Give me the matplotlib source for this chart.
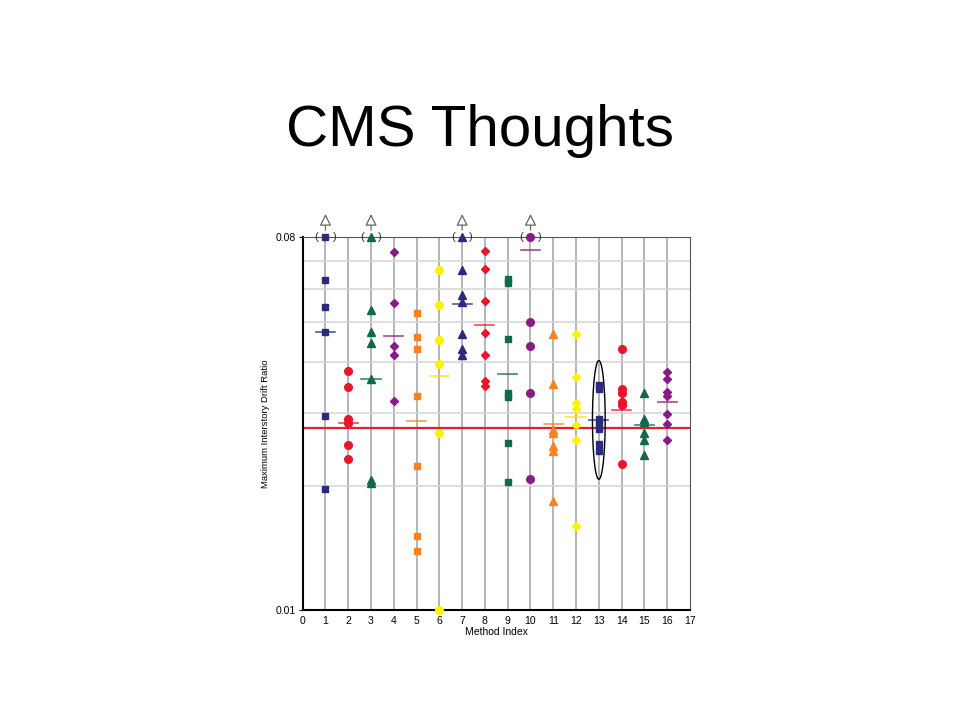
import matplotlib
matplotlib.use('Agg')
import matplotlib.pyplot as plt
import matplotlib.transforms as mtransforms
import numpy as np

plt.rcParams['font.family'] = ['Liberation Sans', 'DejaVu Sans']

# =============================================================================
# Data
# =============================================================================
methods = list(range(1, 17))

values = {
    1: [0.08, 0.0631, 0.0543, 0.0471, 0.0295, 0.0197],
    2: [0.0380, 0.0347, 0.0291, 0.0284, 0.0252, 0.0232],
    3: [0.08, 0.0532, 0.0471, 0.0445, 0.0364, 0.0207, 0.0203],
    4: [0.0736, 0.0554, 0.0436, 0.0414, 0.0321],
    5: [0.0526, 0.0459, 0.0429, 0.0330, 0.0223, 0.0151, 0.0139],
    6: [0.0668, 0.0548, 0.0451, 0.0395, 0.0268, 0.0100],
    7: [0.08, 0.0668, 0.0580, 0.0559, 0.0467, 0.0429, 0.0414],
    8: [0.0742, 0.0669, 0.0560, 0.0469, 0.0414, 0.0359, 0.0349],
    9: [0.0635, 0.0620, 0.0455, 0.0336, 0.0328, 0.0254, 0.0204],
    10: [0.08, 0.0500, 0.0437, 0.0335, 0.0208],
    11: [0.0466, 0.0354, 0.0273, 0.0268, 0.0250, 0.0243, 0.0184],
    12: [0.0466, 0.0367, 0.0318, 0.0307, 0.0281, 0.0259, 0.0160],
    13: [0.0351, 0.0343, 0.0290, 0.0284, 0.0274, 0.0253, 0.0243],
    14: [0.0429, 0.0343, 0.0335, 0.0320, 0.0314, 0.0226],
    15: [0.0335, 0.0290, 0.0285, 0.0268, 0.0259, 0.0238],
    16: [0.0378, 0.0364, 0.0337, 0.0330, 0.0299, 0.0282, 0.0259],
}

medians = [0.0471, 0.0284, 0.0364, 0.0462, 0.0287, 0.0369, 0.0552, 0.0491,
           0.0374, 0.0747, 0.0282, 0.0294, 0.0289, 0.0305, 0.0281, 0.0319]

# methods whose largest value is off the top of the chart
off_scale = [1, 3, 7, 10]

reference_value = 0.0277

# =============================================================================
# Styles
# =============================================================================
navy = '#2a2a80'
red = '#e8152b'
green = '#0e6a47'
purple = '#8a1a88'
orange = '#f7821f'
yellow = '#fff200'

colors = [navy, red, green, purple, orange, yellow, navy, red,
          green, purple, orange, yellow, navy, red, green, purple]
markers = ['s', 'o', '^', 'D', 's', 'o', '^', 'D',
           's', 'o', '^', 'D', 's', 'o', '^', 'D']
sizes = {'s': 5, 'o': 5.5, '^': 5.2, 'D': 3.8}

# =============================================================================
# Figure
# =============================================================================
fig = plt.figure(figsize=(9.6, 7.2), dpi=100)
fig.text(0.5, 0.818, 'CMS Thoughts', ha='center', va='center', fontsize=42)

ax = fig.add_axes([0.3153, 0.1524, 0.4034, 0.518])
ax.set_yscale('log')
ax.set_xlim(0, 17)
ax.set_ylim(0.01, 0.08)

# grid
for m in methods:
    ax.axvline(m, color='#b0b0b0', lw=1.3, zorder=1)
for g in [0.02, 0.03, 0.04, 0.05, 0.06, 0.07]:
    ax.axhline(g, color='#d4d4d4', lw=1.1, zorder=1)

# reference line
ax.axhline(reference_value, color='#e0202f', lw=1.6, zorder=2)

# points and median bars
for i, m in enumerate(methods):
    mk = markers[i]
    ax.plot([m] * len(values[m]), values[m], linestyle='none', marker=mk,
            color=colors[i], markersize=sizes[mk], clip_on=False, zorder=4)
    bar_color = colors[i] if colors[i] != yellow else '#f5e400'
    ax.plot([m - 0.42, m + 0.42], [medians[i], medians[i]], color=bar_color,
            lw=1.2, alpha=0.8, zorder=3)

# off-scale markers: brackets and arrows
trans = mtransforms.blended_transform_factory(ax.transData, ax.transAxes)
for m in off_scale:
    ax.text(m - 0.4, 0.08, '(', ha='center', va='center', fontsize=8, color='#333333')
    ax.text(m + 0.4, 0.08, ')', ha='center', va='center', fontsize=8, color='#333333')
    ax.annotate('', xy=(m, 1.07), xytext=(m, 1.012), xycoords=trans, textcoords=trans,
                arrowprops=dict(arrowstyle='-|>,head_width=0.35,head_length=0.7',
                                fc='white', ec='#666666', lw=0.9),
                annotation_clip=False)

# ellipse around method 13
t = np.linspace(0, 2 * np.pi, 200)
ell_x = 13 + 0.28 * np.cos(t)
ell_y = 10 ** (np.log10(0.0289) + 0.1437 * np.sin(t))
ax.plot(ell_x, ell_y, color='black', lw=1.0, zorder=5)

# axes cosmetics
ax.set_xticks(range(0, 18))
ax.set_yticks([0.01, 0.08])
ax.set_yticklabels(['0.01', '0.08'])
ax.yaxis.set_minor_locator(matplotlib.ticker.NullLocator())
ax.tick_params(axis='both', labelsize=7.5, length=3, width=0.8, pad=2)
ax.tick_params(axis='x', length=0, pad=4)
ax.set_xlabel('Method Index', fontsize=7.5, labelpad=1)
ax.set_ylabel('Maximum Interstory Drift Ratio', fontsize=6.8, labelpad=4)

ax.spines['left'].set_linewidth(1.5)
ax.spines['bottom'].set_linewidth(1.5)
ax.spines['top'].set_color('#555555')
ax.spines['right'].set_color('#555555')

fig.savefig('out.png', dpi=100)
